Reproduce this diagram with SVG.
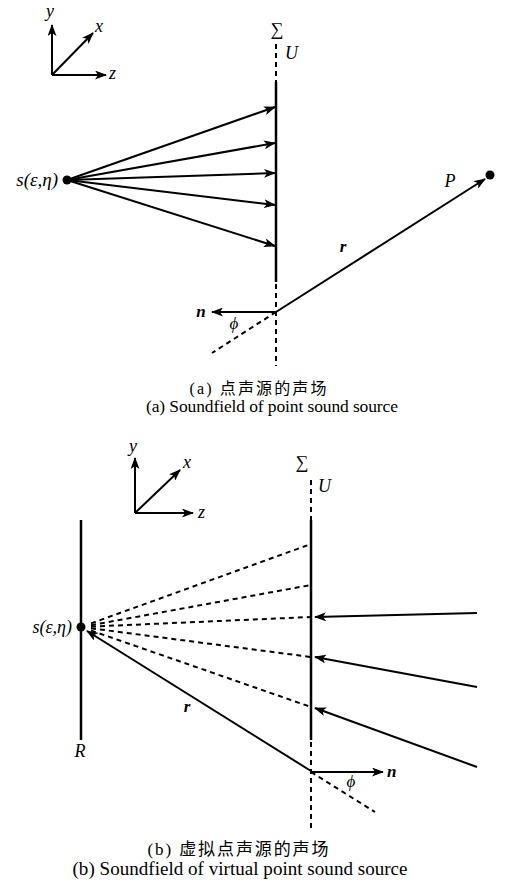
<svg xmlns="http://www.w3.org/2000/svg" width="505" height="884" viewBox="0 0 505 884">
<style>
.ln{stroke:#000;stroke-width:2;fill:none}
.th{stroke:#000;stroke-width:2.5;fill:none}
.ds{stroke:#000;stroke-width:2;fill:none;stroke-dasharray:5 4}
.ar{stroke:#000;stroke-width:2;fill:none;marker-end:url(#ah)}
text{font-family:"Liberation Serif","Times New Roman","DejaVu Serif",serif;fill:#000}
.it{font-style:italic}
.bi{font-style:italic;font-weight:bold}
.cj{font-family:"Liberation Serif","Noto Sans CJK SC",serif}
</style>
<defs>
<marker id="ah" markerUnits="userSpaceOnUse" markerWidth="13" markerHeight="9" refX="11" refY="4.5" orient="auto">
<path d="M0,0 L12,4.5 L0,9 L3,4.5 Z" fill="#000"/>
</marker>
</defs>
<rect width="505" height="884" fill="#fff"/>

<!-- Panel (a) -->
<g id="axes-a">
<line class="ar" x1="52" y1="75" x2="52" y2="25"/>
<line class="ar" x1="52" y1="75" x2="93" y2="33"/>
<line class="ar" x1="52" y1="75" x2="106" y2="75"/>
<text class="it" x="50" y="17" font-size="18" text-anchor="middle">y</text>
<text class="it" x="95" y="32" font-size="18">x</text>
<text class="it" x="109" y="79" font-size="18">z</text>
</g>
<g id="surface-a">
<line class="ds" x1="276" y1="44" x2="276" y2="82"/>
<line class="th" x1="276" y1="82" x2="276" y2="282"/>
<line class="ds" x1="276" y1="284" x2="276" y2="366"/>
<text x="277" y="35" font-size="18" text-anchor="middle">∑</text>
<text class="it" x="285" y="59" font-size="18">U</text>
</g>
<g id="source-a">
<circle cx="67" cy="180" r="4.5" fill="#000"/>
<text class="it" x="58" y="186" font-size="19" text-anchor="end">s(ε,η)</text>
</g>
<g id="point-P">
<circle cx="490" cy="175" r="4.5" fill="#000"/>
<text class="it" x="450" y="187" font-size="18" text-anchor="middle">P</text>
</g>
<g id="connectors-a">
<line class="ar" x1="67" y1="180" x2="275" y2="107"/>
<line class="ar" x1="67" y1="180" x2="275" y2="143"/>
<line class="ar" x1="67" y1="180" x2="275" y2="173"/>
<line class="ar" x1="67" y1="180" x2="275" y2="205"/>
<line class="ar" x1="67" y1="180" x2="275" y2="246"/>
<line class="ar" x1="276" y1="312" x2="485" y2="179"/>
<line class="ar" x1="276" y1="312" x2="212" y2="312"/>
<line class="ds" x1="276" y1="312" x2="212" y2="353"/>
</g>
<g id="labels-a">
<text class="bi" x="343" y="252" font-size="17" text-anchor="middle">r</text>
<text class="bi" x="201" y="317" font-size="17" text-anchor="middle">n</text>
<text class="it" x="234" y="329" font-size="17" text-anchor="middle">ϕ</text>
</g>
<g id="caption-a">
<text class="cj" x="258" y="394" font-size="16" text-anchor="middle" textLength="137">(a) 点声源的声场</text>
<text x="272" y="412" font-size="17.5" text-anchor="middle" textLength="252">(a) Soundfield of point sound source</text>
</g>

<!-- Panel (b) -->
<g id="axes-b">
<line class="ar" x1="135" y1="513" x2="135" y2="458"/>
<line class="ar" x1="135" y1="513" x2="180" y2="470"/>
<line class="ar" x1="135" y1="513" x2="193" y2="513"/>
<text class="it" x="133" y="452" font-size="18" text-anchor="middle">y</text>
<text class="it" x="183" y="468" font-size="18">x</text>
<text class="it" x="198" y="518" font-size="18">z</text>
</g>
<g id="surface-b">
<line class="ds" x1="311" y1="480" x2="311" y2="520"/>
<line class="th" x1="311" y1="520" x2="311" y2="740"/>
<line class="ds" x1="311" y1="742" x2="311" y2="828"/>
<text x="302" y="468" font-size="18" text-anchor="middle">∑</text>
<text class="it" x="318" y="492" font-size="18">U</text>
</g>
<g id="plane-R">
<line class="th" x1="81" y1="520" x2="81" y2="740"/>
<text class="it" x="80" y="757" font-size="18" text-anchor="middle">R</text>
</g>
<g id="source-b">
<circle cx="81" cy="627" r="4.5" fill="#000"/>
<text class="it" x="72" y="633" font-size="18" text-anchor="end">s(ε,η)</text>
</g>
<g id="connectors-b">
<line class="ds" x1="91" y1="623.4" x2="311" y2="544"/>
<line class="ds" x1="91" y1="625.2" x2="311" y2="585"/>
<line class="ds" x1="91" y1="626.6" x2="311" y2="617"/>
<line class="ds" x1="91" y1="628.3" x2="311" y2="657"/>
<line class="ds" x1="91" y1="630.5" x2="311" y2="707"/>
<line class="ar" x1="477" y1="613" x2="315" y2="617"/>
<line class="ar" x1="477" y1="687" x2="315" y2="657"/>
<line class="ar" x1="477" y1="767" x2="315" y2="708"/>
<line class="ar" x1="311" y1="771" x2="87" y2="631"/>
<line class="ar" x1="311" y1="772" x2="383" y2="772"/>
<line class="ds" x1="311" y1="772" x2="375" y2="812"/>
</g>
<g id="labels-b">
<text class="bi" x="187" y="712" font-size="17" text-anchor="middle">r</text>
<text class="bi" x="387" y="777" font-size="17">n</text>
<text class="it" x="351" y="787" font-size="17" text-anchor="middle">ϕ</text>
</g>
<g id="caption-b">
<text class="cj" x="238" y="855" font-size="17" text-anchor="middle" textLength="181">(b) 虚拟点声源的声场</text>
<text x="240" y="875" font-size="19" text-anchor="middle" textLength="335">(b) Soundfield of virtual point sound source</text>
</g>
</svg>
